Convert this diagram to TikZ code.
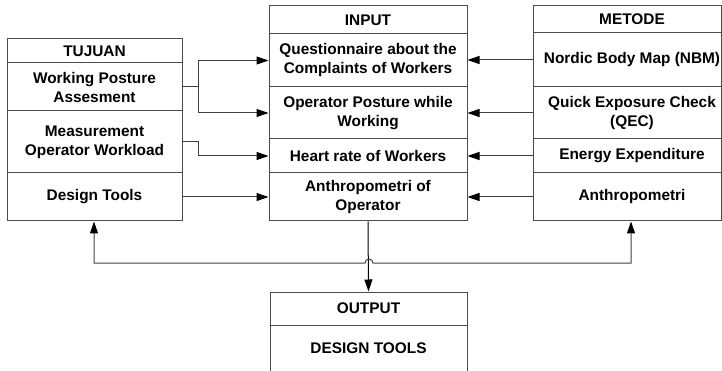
\documentclass[tikz,border=0pt]{standalone}
\usepackage{fontspec}
\setmainfont{Liberation Sans}
\usetikzlibrary{arrows.meta}
\newcommand\msh[1]{\hspace*{10pt}#1}
\begin{document}
\begin{tikzpicture}[x=1pt,y=-1pt,
  cell/.style={draw=black!70, line width=1pt, rectangle, inner sep=0pt,
    align=center, font=\bfseries\fontsize{15.4}{19}\selectfont},
  tcol/.style={cell, minimum width=175pt},
  icol/.style={cell, minimum width=198pt},
  mcol/.style={cell, minimum width=188pt},
  conn/.style={draw=black!75, line width=1pt},
  >={Triangle[length=12pt,width=8pt,color=black]}]
\useasboundingbox (0,0) rectangle (722,371);
% TUJUAN
\node[tcol, minimum height=24pt] (t0) at (94.5,51) {TUJUAN};
\node[tcol, minimum height=48pt] (t1) at (94.5,87) {Working Posture\\Assesment};
\node[tcol, minimum height=62pt] (t2) at (94.5,142) {Measurement\\Operator Workload};
\node[tcol, minimum height=48pt] (t3) at (94.5,197) {Design Tools};
% INPUT
\node[icol, minimum height=28pt] (i0) at (368,20) {INPUT};
\node[icol, minimum height=53pt] (i1) at (368,60.5) {Questionnaire about the\\Complaints of Workers};
\node[icol, minimum height=52pt] (i2) at (368,113) {Operator Posture while\\Working};
\node[icol, minimum height=34pt] (i3) at (368,156) {Heart rate of Workers};
\node[icol, minimum height=48pt] (i4) at (368,197) {Anthropometri of\\Operator};
% METODE
\node[mcol, minimum height=27pt] (m0) at (627,19.5) {\msh{METODE}};
\node[mcol, minimum height=54pt] (m1) at (627,60) {\msh{Nordic Body Map (NBM)}};
\node[mcol, minimum height=52pt] (m2) at (627,113) {\msh{Quick Exposure Check}\\\msh{(QEC)}};
\node[mcol, minimum height=34pt] (m3) at (627,156) {\msh{Energy Expenditure}};
\node[mcol, minimum height=48pt] (m4) at (627,197) {\msh{Anthropometri}};
% OUTPUT
\node[icol, minimum width=197pt, minimum height=33pt] (o0) at (368.5,308.5) {OUTPUT};
\node[icol, minimum width=197pt, minimum height=46pt] (o1) at (368.5,348) {DESIGN TOOLS};
% connectors
\draw[conn,->] (t1.east) -- ++(16,0) |- (i1.west);
\draw[conn,->] (t1.east) -- ++(16,0) |- (i2.west);
\draw[conn,->] (t2.east) -- ++(16,0) |- (i3.west);
\draw[conn,->] (t3.east) -- (i4.west);
\draw[conn,->] (m1.west) -- (i1.east |- m1.west);
\draw[conn,->] (m2.west) -- (i2.east);
\draw[conn,->] (m3.west) -- (i3.east);
\draw[conn,->] (m4.west) -- (i4.east);
\coordinate (hl) at (94,263);
\coordinate (hr) at (631,263);
\draw[conn,draw=black,->] (i4.south) -- (o0.north);
\draw[conn,<->] (hl |- t3.south) -- (hl) -- (365,263) arc[start angle=180,end angle=0,radius=4pt] -- (hr) -- (hr |- m4.south);
\end{tikzpicture}
\end{document}
